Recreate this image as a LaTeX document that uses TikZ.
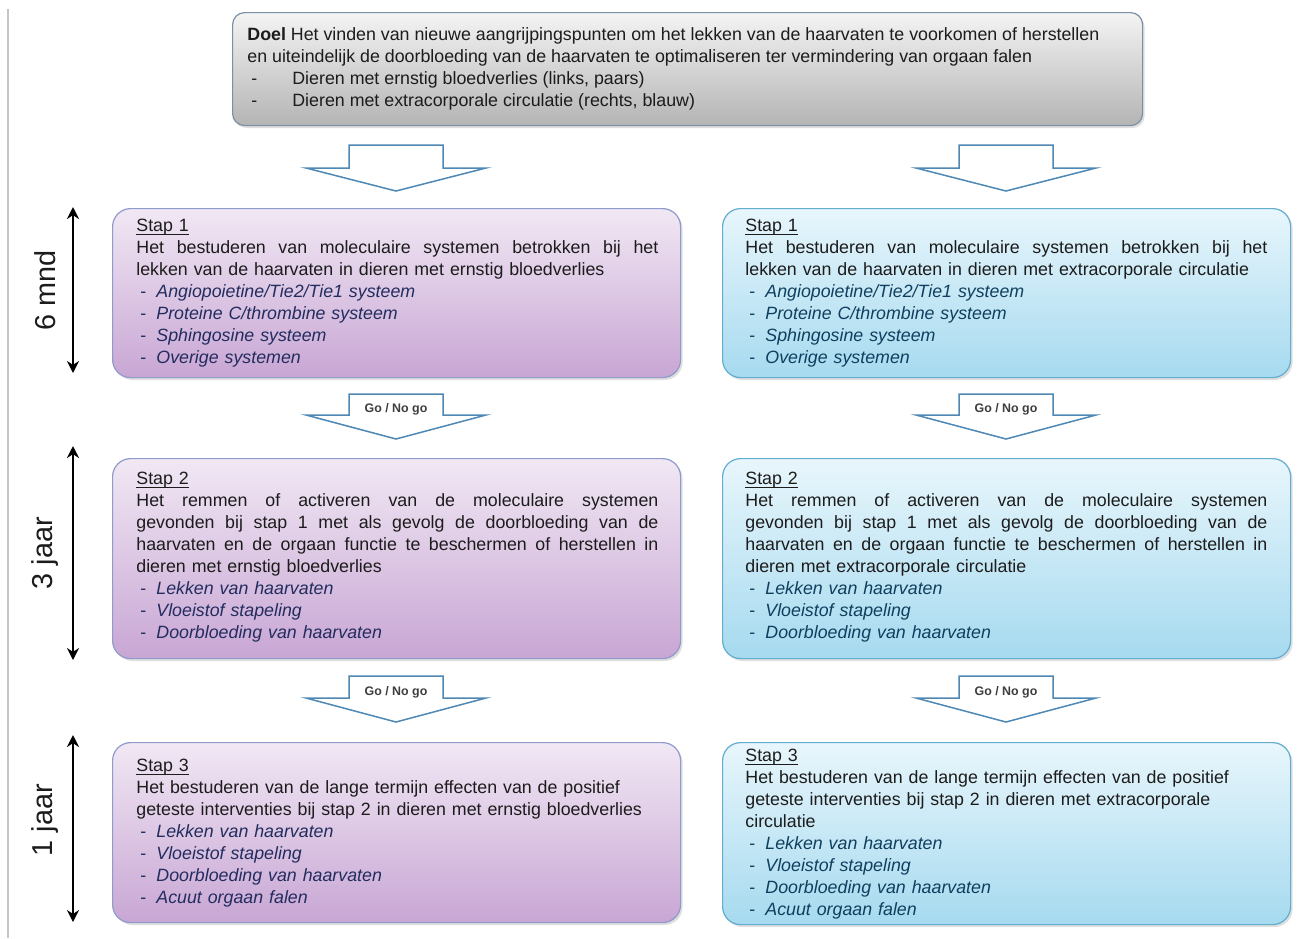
\documentclass[tikz,border=0pt]{standalone}
\usepackage{fontspec}
\setmainfont{Liberation Sans}
\usetikzlibrary{arrows.meta,shadows}
\definecolor{pTop}{HTML}{F1E8F4}
\definecolor{pBot}{HTML}{C8A6D4}
\definecolor{pLine}{HTML}{8E9BCB}
\definecolor{bTop}{HTML}{E8F6FC}
\definecolor{bBot}{HTML}{A6DAEF}
\definecolor{bLine}{HTML}{62AECF}
\definecolor{gTop}{HTML}{F4F4F4}
\definecolor{gBot}{HTML}{B4B4B4}
\definecolor{gLine}{HTML}{7B8FA6}
\definecolor{arrLine}{HTML}{4F88B4}
\definecolor{txt}{HTML}{1C1C1C}
\definecolor{pItem}{HTML}{222C5E}
\definecolor{bItem}{HTML}{0F3F5F}
\definecolor{sideLine}{HTML}{C4C4C4}
\newcommand\fsMain{\fontsize{8.9}{11}\selectfont}
\newcommand\jline[1]{{\spaceskip=0pt\xspaceskip=0pt\makebox[261pt][s]{#1}}}
\newcommand\pitem[2]{{\color{#1}\makebox[10pt][l]{\hspace{2pt}-}\textit{#2}}}
\newcommand\tdash{\makebox[22.5pt][l]{\hspace{2pt}-}}
\newcommand\stapul[1]{\setbox0\hbox{#1}\rlap{\rule[-1.3pt]{\wd0}{0.45pt}}\box0}
\newcommand\blockarrow[4]{%
  \draw[blockarr] ({#1-47},#2) -- ({#1+47},#2) -- ({#1+47},#3) -- ({#1+90},#3)
    -- (#1,#4) -- ({#1-90},#3) -- ({#1-47},#3) -- cycle;}
\tikzset{
  boxbase/.style={anchor=north west, inner sep=0pt, rounded corners=9pt, line width=0.6pt,
    drop shadow={shadow xshift=1pt, shadow yshift=-1.2pt, opacity=.25}},
  pbox/.style={boxbase, draw=pLine, top color=pTop, bottom color=pBot},
  bbox/.style={boxbase, draw=bLine, top color=bTop, bottom color=bBot},
  gbox/.style={boxbase, rounded corners=6pt, draw=gLine, top color=gTop, bottom color=gBot},
  boxtext/.style={anchor=north west, inner sep=0pt, text width=261pt, align=left, font=\fsMain, text=txt},
  blockarr/.style={draw=arrLine, fill=white, line width=0.75pt, line join=miter},
  golabel/.style={font=\fontsize{6.2}{7}\selectfont\bfseries, text=txt!85, inner sep=0pt},
  timearr/.style={line width=1.25pt, {Stealth[length=6pt,width=6pt]}-{Stealth[length=6pt,width=6pt]}},
  timelabel/.style={font=\fontsize{14.4}{16}\selectfont, rotate=90, inner sep=0pt, text=txt}
}
\begin{document}
\begin{tikzpicture}[x=0.5pt,y=-0.5pt]
\fill[white] (0,0) rectangle (1301,938);
\useasboundingbox (0,0) rectangle (1301,938);
\draw[sideLine, line width=1pt] (7.5,9) -- (7.5,938);

% top box
\node (top) [gbox, minimum width=455pt, minimum height=56.5pt] at (232,12) {};
\node (toptext) [anchor=north west, inner sep=0pt, align=left, font=\fsMain, text=txt] at (247,27)
 {{\bfseries Doel} Het vinden van nieuwe aangrijpingspunten om het lekken van de haarvaten te voorkomen of herstellen\\
  en uiteindelijk de doorbloeding van de haarvaten te optimaliseren ter vermindering van orgaan falen\\
  \tdash Dieren met ernstig bloedverlies (links, paars)\\
  \tdash Dieren met extracorporale circulatie (rechts, blauw)};

% block arrows
\blockarrow{396}{145}{168}{191}
\blockarrow{1006}{145}{168}{191}
\blockarrow{396}{394}{415}{439}
\blockarrow{1006}{394}{415}{439}
\blockarrow{396}{676}{698}{722}
\blockarrow{1006}{676}{698}{722}
\node (g1) [golabel] at (396,409) {Go / No go};
\node (g2) [golabel] at (1006,409) {Go / No go};
\node (g3) [golabel] at (396,692) {Go / No go};
\node (g4) [golabel] at (1006,692) {Go / No go};

% step boxes
\node (L1) [pbox, minimum width=284pt, minimum height=84.5pt] at (112,208) {};
\node (R1) [bbox, minimum width=284pt, minimum height=84.5pt] at (722,208) {};
\node (L2) [pbox, minimum width=284pt, minimum height=100pt] at (112,458) {};
\node (R2) [bbox, minimum width=284pt, minimum height=100pt] at (722,458) {};
\node (L3) [pbox, minimum width=284pt, minimum height=90pt] at (112,742) {};
\node (R3) [bbox, minimum width=284pt, minimum height=91pt] at (722,742) {};

\node (L1t) [boxtext] at (136,219) {\stapul{Stap 1}\\
 \jline{Het bestuderen van moleculaire systemen betrokken bij het}\\
 lekken van de haarvaten in dieren met ernstig bloedverlies\\
 \pitem{pItem}{Angiopoietine/Tie2/Tie1 systeem}\\
 \pitem{pItem}{Proteine C/thrombine systeem}\\
 \pitem{pItem}{Sphingosine systeem}\\
 \pitem{pItem}{Overige systemen}};
\node (R1t) [boxtext] at (745,219) {\stapul{Stap 1}\\
 \jline{Het bestuderen van moleculaire systemen betrokken bij het}\\
 lekken van de haarvaten in dieren met extracorporale circulatie\\
 \pitem{bItem}{Angiopoietine/Tie2/Tie1 systeem}\\
 \pitem{bItem}{Proteine C/thrombine systeem}\\
 \pitem{bItem}{Sphingosine systeem}\\
 \pitem{bItem}{Overige systemen}};

\node (L2t) [boxtext] at (136,472) {\stapul{Stap 2}\\
 \jline{Het remmen of activeren van de moleculaire systemen}\\
 \jline{gevonden bij stap 1 met als gevolg de doorbloeding van de}\\
 \jline{haarvaten en de orgaan functie te beschermen of herstellen in}\\
 dieren met ernstig bloedverlies\\
 \pitem{pItem}{Lekken van haarvaten}\\
 \pitem{pItem}{Vloeistof stapeling}\\
 \pitem{pItem}{Doorbloeding van haarvaten}};
\node (R2t) [boxtext] at (745,472) {\stapul{Stap 2}\\
 \jline{Het remmen of activeren van de moleculaire systemen}\\
 \jline{gevonden bij stap 1 met als gevolg de doorbloeding van de}\\
 \jline{haarvaten en de orgaan functie te beschermen of herstellen in}\\
 dieren met extracorporale circulatie\\
 \pitem{bItem}{Lekken van haarvaten}\\
 \pitem{bItem}{Vloeistof stapeling}\\
 \pitem{bItem}{Doorbloeding van haarvaten}};

\node (L3t) [boxtext] at (136,759) {\stapul{Stap 3}\\
 Het bestuderen van de lange termijn effecten van de positief\\
 geteste interventies bij stap 2 in dieren met ernstig bloedverlies\\
 \pitem{pItem}{Lekken van haarvaten}\\
 \pitem{pItem}{Vloeistof stapeling}\\
 \pitem{pItem}{Doorbloeding van haarvaten}\\
 \pitem{pItem}{Acuut orgaan falen}};
\node (R3t) [boxtext] at (745,749) {\stapul{Stap 3}\\
 Het bestuderen van de lange termijn effecten van de positief\\
 geteste interventies bij stap 2 in dieren met extracorporale\\
 circulatie\\
 \pitem{bItem}{Lekken van haarvaten}\\
 \pitem{bItem}{Vloeistof stapeling}\\
 \pitem{bItem}{Doorbloeding van haarvaten}\\
 \pitem{bItem}{Acuut orgaan falen}};

% time arrows
\coordinate (t1a) at (73,207); \coordinate (t1b) at (73,373);
\coordinate (t2a) at (73,446); \coordinate (t2b) at (73,660);
\coordinate (t3a) at (73,735); \coordinate (t3b) at (73,922);
\draw[timearr] (t1a) -- (t1b);
\draw[timearr] (t2a) -- (t2b);
\draw[timearr] (t3a) -- (t3b);
\node (m1) [timelabel] at (45,290) {6 mnd};
\node (m2) [timelabel] at (45,553) {3 jaar};
\node (m3) [timelabel] at (45,820) {1 jaar};
\end{tikzpicture}
\end{document}
